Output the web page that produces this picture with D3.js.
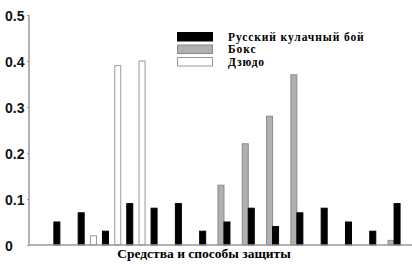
<!DOCTYPE html>
<html>
<head>
<meta charset="utf-8">
<script src="https://cdn.jsdelivr.net/npm/d3@7"></script>
<style>
  body { margin: 0; background: #fff; }
  svg { display: block; }
</style>
</head>
<body>
<script>
const WIDTH = 412;
const HEIGHT = 267;
const AXIS_X = 29;
const BASE_Y = 245;
const TOP_Y = 15;

// 15 groups along the x axis (no labels in the picture)
var groups = d3.range(1, 16);
var fistFight = [0.05,0.07,0.03,0.09,0.08,0.09,0.03,0.05,0.08,0.04,0.07,0.08,0.05,0.03,0.09];
var boxing    = [0,0,0,0,0,0,0,0.13,0.22,0.28,0.37,0,0,0,0.01];
var judo      = [0,0,0.02,0.39,0.40,0,0,0,0,0,0,0,0,0,0];
var yTicks = [0,0.1,0.2,0.3,0.4,0.5];
var seriesNames = ['Русский кулачный бой','Бокс','Дзюдо'];
var xTitle = 'Средства и способы защиты';

var series = [
  {key:'judo',   name:seriesNames[2], values:judo,      fill:'#fff',  stroke:'#999'},
  {key:'boxing', name:seriesNames[1], values:boxing,    fill:'#b0b0b0', stroke:'#8a8a8a'},
  {key:'fist',   name:seriesNames[0], values:fistFight, fill:'#000',  stroke:'#000'}
];

var svg = d3.select('body').append('svg')
  .attr('width', WIDTH).attr('height', HEIGHT);

var x = d3.scaleLinear().domain([0.1, 16.1]).range([AXIS_X, AXIS_X + 16*24.3]);
var sub = d3.scaleBand().domain(['judo','boxing','fist']).range([-9, 9]);
var y = d3.scaleLinear().domain([0, 0.5]).range([BASE_Y, TOP_Y]);

// bars
series.forEach(function(s){
  svg.append('g')
    .selectAll('rect')
    .data(groups.filter(function(g,i){ return s.values[i] > 0; }))
    .enter()
    .append('rect')
    .attr('x', function(g){ return x(g) + sub(s.key); })
    .attr('y', function(g){ return y(s.values[g-1]); })
    .attr('width', sub.bandwidth())
    .attr('height', function(g){ return BASE_Y - y(s.values[g-1]); })
    .attr('fill', s.fill)
    .attr('stroke', s.stroke)
    .attr('stroke-width', 1);
});

// axes
var yAxis = d3.axisLeft(y).tickValues(yTicks).tickSize(2)
  .tickFormat(function(d){ return d === 0 ? '0' : d3.format('.1f')(d); });
var gy = svg.append('g')
  .attr('transform', 'translate('+AXIS_X+',0)')
  .call(yAxis);
gy.select('.domain').attr('stroke', '#999').attr('stroke-width', 1.5)
  .attr('d', 'M0,'+TOP_Y+'V'+BASE_Y);
gy.selectAll('.tick line').attr('stroke', '#999');
gy.selectAll('.tick text')
  .attr('x', 5 - AXIS_X)
  .attr('text-anchor', 'start')
  .attr('dy', '0.36em')
  .attr('fill', '#111')
  .style('font-family', '"Liberation Sans", Arial, sans-serif')
  .style('font-weight', 'bold')
  .style('font-size', '14px');

svg.append('line')
  .attr('x1', AXIS_X).attr('x2', WIDTH)
  .attr('y1', BASE_Y).attr('y2', BASE_Y)
  .attr('stroke', '#999').attr('stroke-width', 1.5);

// x title
svg.append('text')
  .attr('x', 204).attr('y', 258)
  .attr('text-anchor', 'middle')
  .style('font-family', '"Liberation Serif", "Times New Roman", serif')
  .style('font-weight', 'bold')
  .style('font-size', '13.5px')
  .text(xTitle);

// legend
var legendItems = [series[2], series[1], series[0]];
var legend = svg.append('g').attr('transform', 'translate(177,32)');
legendItems.forEach(function(s, i){
  legend.append('rect')
    .attr('x', 0.5).attr('y', i*12.5 + 0.5)
    .attr('width', 35).attr('height', 8.5)
    .attr('fill', s.fill).attr('stroke', s.stroke);
  legend.append('text')
    .attr('x', 51).attr('y', i*12.8 + 8.5)
    .style('font-family', '"Liberation Serif", "Times New Roman", serif')
    .style('font-weight', 'bold')
    .style('font-size', '11.5px')
    .style('letter-spacing', '0.9px')
    .text(s.name);
});
</script>
</body>
</html>
